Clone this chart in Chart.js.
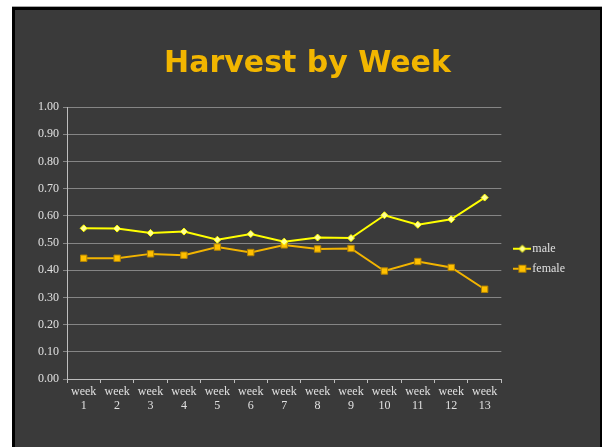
<!DOCTYPE html>
<html>
<head>
<meta charset="utf-8">
<script src="https://cdn.jsdelivr.net/npm/chart.js@4"></script>
<style>
  html, body { margin: 0; padding: 0; background: #ffffff; }
  #frame {
    position: absolute; left: 12px; top: 6px;
    border-top: 1px solid #a8a8a8;
  }
  #box {
    width: 585px; height: 440px;
    background: #3a3a3a;
    border-left: 3px solid #000; border-top: 3px solid #000; border-right: 2px solid #000;
  }
  canvas { display: block; }
</style>
</head>
<body>
<div id="frame"><div id="box"><canvas id="myChart" width="585" height="440"></canvas></div></div>
<script>
const weeks = ['1', '2', '3', '4', '5', '6', '7', '8', '9', '10', '11', '12', '13'];
const maleValues = [0.554, 0.553, 0.537, 0.542, 0.512, 0.533, 0.505, 0.520, 0.518, 0.602, 0.567, 0.587, 0.667];
const femaleValues = [0.444, 0.444, 0.460, 0.455, 0.485, 0.465, 0.493, 0.478, 0.480, 0.397, 0.432, 0.410, 0.330];
const seriesNames = ['male', 'female'];

const labelFont = { family: "'Liberation Serif', serif", size: 12 };

// little line+marker pictures for the legend
function legendIcon(color, marker, fill, edge) {
    const c = document.createElement('canvas');
    c.width = 18; c.height = 10;
    const g = c.getContext('2d');
    g.strokeStyle = color; g.lineWidth = 2;
    g.beginPath(); g.moveTo(0, 5); g.lineTo(18, 5); g.stroke();
    g.fillStyle = fill; g.strokeStyle = edge; g.lineWidth = 1;
    if (marker === 'diamond') {
        g.beginPath(); g.moveTo(9, 1.5); g.lineTo(12.5, 5); g.lineTo(9, 8.5); g.lineTo(5.5, 5); g.closePath();
        g.fill(); g.stroke();
    } else {
        g.fillRect(5, 1, 8, 8); g.strokeRect(5.5, 1.5, 7, 7);
    }
    return c;
}
const maleIcon = legendIcon('#ffff00', 'diamond', '#ffff99', '#ffff00');
const femaleIcon = legendIcon('#f2b400', 'square', '#ffc000', '#b48400');

// empty spacer axes used only to leave room around the legend
const spacer = (w, weight) => ({
    position: 'right',
    weight: weight,
    display: true,
    grid: { display: false },
    border: { display: false },
    ticks: { display: false },
    afterFit: s => { s.width = w; }
});

const chart = new Chart('myChart', {
    type: 'line',
    data: {
        labels: weeks.map(w => ['week', w]),
        datasets: [{
            label: seriesNames[0],
            data: maleValues,
            borderColor: '#ffff00',
            borderWidth: 2,
            pointStyle: 'rectRot',
            pointRadius: 3.5,
            pointBackgroundColor: '#ffff99',
            pointBorderColor: '#ffff00',
            pointBorderWidth: 1
        }, {
            label: seriesNames[1],
            data: femaleValues,
            borderColor: '#f2b400',
            borderWidth: 2,
            pointStyle: 'rect',
            pointRadius: 4.5,
            pointBackgroundColor: '#ffc000',
            pointBorderColor: '#b48400',
            pointBorderWidth: 1
        }]
    },
    options: {
        responsive: false,
        animation: false,
        layout: { padding: 0 },
        plugins: {
            title: {
                display: true,
                text: 'Harvest by Week',
                color: '#f2b600',
                font: { family: "'DejaVu Sans', sans-serif", size: 30, weight: 'bold' },
                padding: { top: 36, bottom: 25 }
            },
            legend: {
                position: 'right',
                fullSize: false,
                title: { display: true, text: '', padding: { top: 17, bottom: 0 }, font: { size: 12 } },
                labels: {
                    usePointStyle: true,
                    pointStyleWidth: 8,
                    padding: 8,
                    color: '#e0e0e0',
                    font: labelFont,
                    generateLabels: () => [
                        { text: seriesNames[0], pointStyle: maleIcon, fontColor: '#e0e0e0', datasetIndex: 0, lineWidth: 0 },
                        { text: seriesNames[1], pointStyle: femaleIcon, fontColor: '#e0e0e0', datasetIndex: 1, lineWidth: 0 }
                    ]
                }
            },
            tooltip: { enabled: false }
        },
        scales: {
            x: {
                offset: true,
                grid: { display: true, drawOnChartArea: false, drawTicks: true, tickLength: 4, color: '#bdbdbd', offset: true },
                border: { color: '#bdbdbd', width: 1 },
                ticks: { color: '#e0e0e0', font: Object.assign({ lineHeight: 1.15 }, labelFont), maxRotation: 0, autoSkip: false, padding: 2 },
                afterFit: s => { s.height = 71; }
            },
            y: {
                min: 0, max: 1,
                grid: { color: '#858585', tickLength: 4 },
                border: { color: '#bdbdbd', width: 1 },
                ticks: { stepSize: 0.1, color: '#e0e0e0', font: labelFont, padding: 4, callback: v => v.toFixed(2) },
                afterFit: s => { s.width = 52; }
            },
            gap: spacer(9, 0),
            edge: spacer(25, 2000)
        }
    }
});
</script>
</body>
</html>
